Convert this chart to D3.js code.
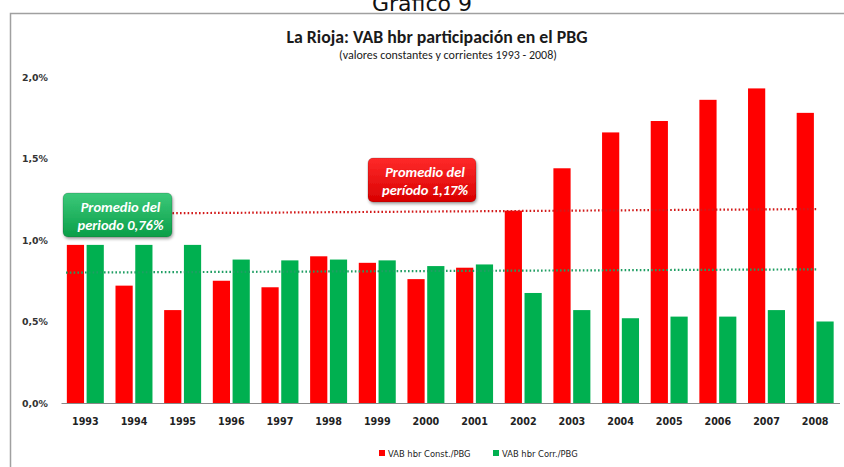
<!DOCTYPE html>
<html><head><meta charset="utf-8">
<script src="https://cdn.jsdelivr.net/npm/d3@7"></script>
<style>body{margin:0;background:#fff;} svg{display:block;}</style>
</head><body>
<svg id="chart" width="844" height="467"></svg>
<script>
const years = ["1993","1994","1995","1996","1997","1998","1999","2000","2001","2002","2003","2004","2005","2006","2007","2008"];
const constValues = [0.97,0.72,0.57,0.75,0.71,0.90,0.86,0.76,0.83,1.18,1.44,1.66,1.73,1.86,1.93,1.78];
const corrValues  = [0.97,0.97,0.97,0.88,0.875,0.88,0.875,0.84,0.85,0.675,0.57,0.52,0.53,0.53,0.57,0.50];
const seriesNames = ["VAB hbr Const./PBG","VAB hbr Corr./PBG"];
const seriesColors = ["#ff0000","#00b050"];
const avgConstLine = [1.16,1.19];
const avgCorrLine = [0.80,0.82];
const yTicks = [0,0.5,1.0,1.5,2.0];
const calloutConst = ["Promedio del","período 1,17%"];
const calloutCorr = ["Promedio del","periodo 0,76%"];

const FONT = "Carlito, 'Liberation Sans Narrow', 'Open Sans', sans-serif";
const TFONT = "'DejaVu Sans', Verdana, sans-serif";
const svg = d3.select("#chart");

const defs = svg.append("defs");
const gG = defs.append("linearGradient").attr("id","gg").attr("x1",0).attr("y1",0).attr("x2",0).attr("y2",1);
gG.append("stop").attr("offset","0%").attr("stop-color","#3cc97a");
gG.append("stop").attr("offset","100%").attr("stop-color","#0a9e48");
const gR = defs.append("linearGradient").attr("id","gr").attr("x1",0).attr("y1",0).attr("x2",0).attr("y2",1);
gR.append("stop").attr("offset","0%").attr("stop-color","#ff2a2a");
gR.append("stop").attr("offset","100%").attr("stop-color","#d80000");
const sh = defs.append("filter").attr("id","sh").attr("x","-20%").attr("y","-20%").attr("width","140%").attr("height","150%");
sh.append("feDropShadow").attr("dx",1).attr("dy",2).attr("stdDeviation",1.5).attr("flood-color","#000").attr("flood-opacity",0.35);

// Page title (partially cut, as in the source)
svg.append("text").attr("x",422).attr("y",11).attr("text-anchor","middle")
  .attr("font-family","'DejaVu Sans', sans-serif").attr("font-size",22).attr("fill","#111").text("Gráfico 9");

// frame
svg.append("rect").attr("x",10.5).attr("y",13.5).attr("width",840).attr("height",460)
  .attr("fill","#fff").attr("stroke","#a0a0a0").attr("stroke-width",1.5);

const x0 = d3.scaleBand().domain(years).range([61,839.5]).paddingInner(0.24).paddingOuter(0.12);
const x1 = d3.scaleBand().domain([0,1]).range([0,x0.bandwidth()]).paddingInner(0.13);
const y = d3.scaleLinear().domain([0,2]).range([403,77]);

// title
svg.append("text").attr("x",437).attr("y",43).attr("text-anchor","middle")
  .attr("font-family",FONT).attr("font-weight","bold").attr("font-size",17.8).attr("fill","#1a1a1a")
  .text("La Rioja: VAB hbr participación  en el PBG");
svg.append("text").attr("x",448).attr("y",59).attr("text-anchor","middle")
  .attr("font-family",FONT).attr("font-size",12).attr("fill","#1a1a1a")
  .text("(valores constantes y corrientes 1993 - 2008)");

// y axis labels
const yAxis = d3.axisLeft(y).tickValues(yTicks).tickSize(0).tickPadding(0)
  .tickFormat(d => d3.format(".1f")(d).replace(".", ",") + "%");
const gy = svg.append("g").attr("transform","translate(48,0)").call(yAxis);
gy.select(".domain").remove();
gy.selectAll("text").attr("font-family",TFONT).attr("font-weight","bold").attr("font-size",9.4).attr("fill","#333").attr("dy","0.35em");

// bars
const groups = svg.append("g").selectAll("g").data(years).join("g")
  .attr("transform", d => `translate(${x0(d)},0)`);
groups.append("rect").attr("x",x1(0)).attr("width",x1.bandwidth())
  .attr("y",(d,i)=>y(constValues[i])).attr("height",(d,i)=>y(0)-y(constValues[i])).attr("fill",seriesColors[0]);
groups.append("rect").attr("x",x1(1)).attr("width",x1.bandwidth())
  .attr("y",(d,i)=>y(corrValues[i])).attr("height",(d,i)=>y(0)-y(corrValues[i])).attr("fill",seriesColors[1]);

// x axis
const xAxis = d3.axisBottom(x0).tickSize(0).tickPadding(15);
const gx = svg.append("g").attr("transform",`translate(0,${y(0)})`).call(xAxis);
gx.select(".domain").attr("stroke","#888").attr("stroke-width",1);
gx.selectAll("text").attr("font-family",TFONT).attr("font-weight","bold").attr("font-size",9.6).attr("fill","#222");

// average dotted lines
const lx = d3.scaleLinear().domain([0,1]).range([66,818]);
svg.append("line").attr("x1",lx(0)).attr("x2",lx(1)).attr("y1",y(avgConstLine[0])).attr("y2",y(avgConstLine[1]))
  .attr("stroke","#d21a1a").attr("stroke-width",2.2).attr("stroke-dasharray","1.6,2.2");
svg.append("line").attr("x1",lx(0)).attr("x2",lx(1)).attr("y1",y(avgCorrLine[0])).attr("y2",y(avgCorrLine[1]))
  .attr("stroke","#1f9e63").attr("stroke-width",2.2).attr("stroke-dasharray","1.6,2.2");

// callouts
function callout(x,yy,w,h,fill,lines){
  const g = svg.append("g");
  g.append("rect").attr("x",x).attr("y",yy).attr("width",w).attr("height",h).attr("rx",5)
    .attr("fill",fill).attr("stroke","rgba(0,0,0,0.15)").attr("filter","url(#sh)");
  lines.forEach((t,i)=>{
    g.append("text").attr("x",x+w/2+3).attr("y",yy+h/2-3+i*18).attr("text-anchor","middle")
      .attr("font-family",FONT).attr("font-weight","bold").attr("font-style","italic")
      .attr("font-size",14.5).attr("fill","#fff").text(t);
  });
}
callout(63,193,109,44,"url(#gg)",calloutCorr);
callout(368,158,108,44,"url(#gr)",calloutConst);

// legend
const leg = svg.append("g");
const legX = [379,493];
seriesNames.forEach((n,i)=>{
  leg.append("rect").attr("x",legX[i]).attr("y",450).attr("width",6).attr("height",6).attr("fill",seriesColors[i]);
  leg.append("text").attr("x",legX[i]+9).attr("y",456.5).attr("font-family",TFONT).attr("font-size",8.4)
    .attr("fill","#222").text(n);
});
</script>
</body></html>
